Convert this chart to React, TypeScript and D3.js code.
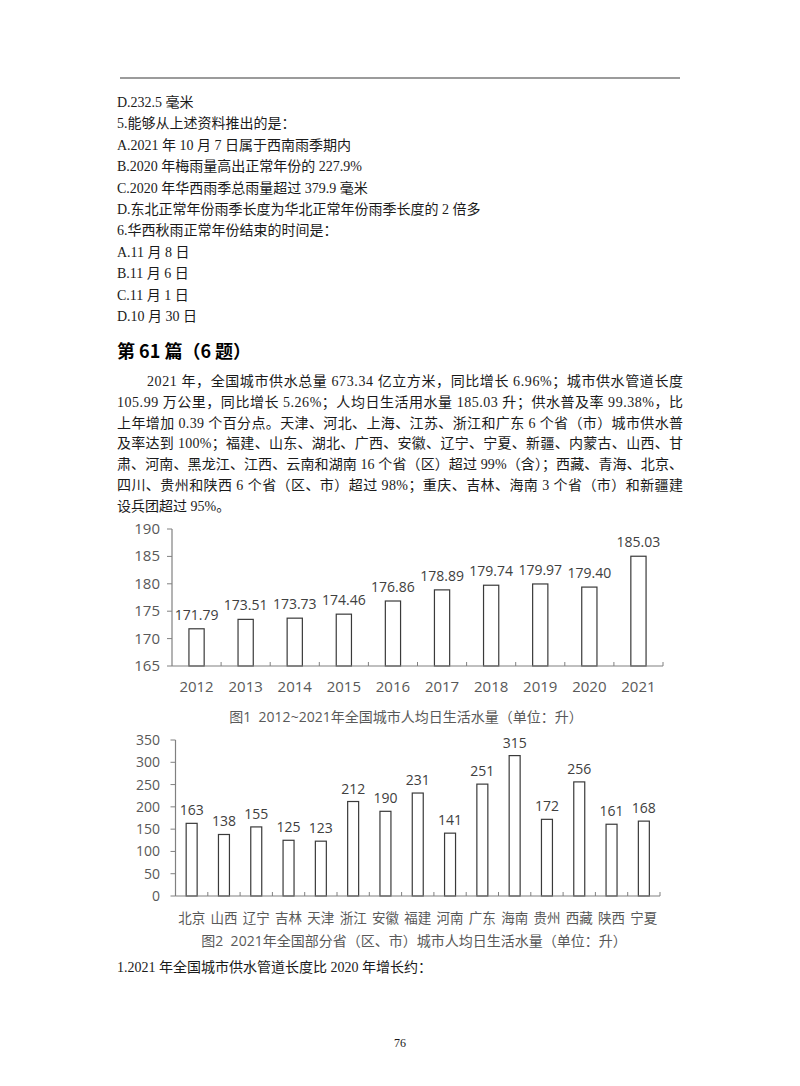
import React from "react";
import * as d3 from "d3";

const questionLines = [
  "D.232.5 毫米",
  "5.能够从上述资料推出的是：",
  "A.2021 年 10 月 7 日属于西南雨季期内",
  "B.2020 年梅雨量高出正常年份的 227.9%",
  "C.2020 年华西雨季总雨量超过 379.9 毫米",
  "D.东北正常年份雨季长度为华北正常年份雨季长度的 2 倍多",
  "6.华西秋雨正常年份结束的时间是：",
  "A.11 月 8 日",
  "B.11 月 6 日",
  "C.11 月 1 日",
  "D.10 月 30 日",
];

const sectionTitle = "第 61 篇（6 题）";

const paragraphLines = [
  "2021 年，全国城市供水总量 673.34 亿立方米，同比增长 6.96%；城市供水管道长度",
  "105.99 万公里，同比增长 5.26%；人均日生活用水量 185.03 升；供水普及率 99.38%，比",
  "上年增加 0.39 个百分点。天津、河北、上海、江苏、浙江和广东 6 个省（市）城市供水普",
  "及率达到 100%；福建、山东、湖北、广西、安徽、辽宁、宁夏、新疆、内蒙古、山西、甘",
  "肃、河南、黑龙江、江西、云南和湖南 16 个省（区）超过 99%（含）；西藏、青海、北京、",
  "四川、贵州和陕西 6 个省（区、市）超过 98%；重庆、吉林、海南 3 个省（市）和新疆建",
  "设兵团超过 95%。",
];

const years = ["2012", "2013", "2014", "2015", "2016", "2017", "2018", "2019", "2020", "2021"];
const cityWaterUse = [171.79, 173.51, 173.73, 174.46, 176.86, 178.89, 179.74, 179.97, 179.4, 185.03];
const yTicks1 = [165, 170, 175, 180, 185, 190];
const caption1 = "图1  2012~2021年全国城市人均日生活水量（单位：升）";

const provinces = ["北京", "山西", "辽宁", "吉林", "天津", "浙江", "安徽", "福建", "河南", "广东", "海南", "贵州", "西藏", "陕西", "宁夏"];
const provinceWaterUse = [163, 138, 155, 125, 123, 212, 190, 231, 141, 251, 315, 172, 256, 161, 168];
const yTicks2 = [0, 50, 100, 150, 200, 250, 300, 350];
const caption2 = "图2  2021年全国部分省（区、市）城市人均日生活水量（单位：升）";

const questionAfter = "1.2021 年全国城市供水管道长度比 2020 年增长约：";
const pageNumber = "76";

const BODY_FONT = "'Liberation Serif','Noto Sans CJK SC',serif";
const CHART_FONT = "'Open Sans','Noto Sans CJK SC',sans-serif";
const AXIS_COLOR = "#808080";
const LABEL_COLOR = "#595959";
const VALUE_COLOR = "#404040";
const BAR_STROKE = "#3a3a3a";

type BarChartProps = {
  cats: string[];
  values: number[];
  ticks: number[];
  x0: number;
  x1: number;
  yTop: number;
  yBottom: number;
  pad: number;
  labelFormat: (v: number) => string;
  valueGap: number;
  xLabelY: number;
  yLabelX: number;
  fontSize: number;
  catFontSize: number;
  valueFontSize: number;
  caption: string;
  captionX: number;
  captionY: number;
};

function BarChart(p: BarChartProps) {
  const x = d3
    .scaleBand<string>()
    .domain(p.cats)
    .range([p.x0, p.x1])
    .paddingInner(p.pad)
    .paddingOuter(p.pad / 2);
  const y = d3
    .scaleLinear()
    .domain([p.ticks[0], p.ticks[p.ticks.length - 1]])
    .range([p.yBottom, p.yTop]);
  const step = x.step();
  const boundaries = p.cats.map((_, i) => p.x0 + (i + 1) * step);
  return (
    <g fontFamily={CHART_FONT}>
      {p.cats.map((c, i) => {
        const v = p.values[i];
        const bx = x(c) as number;
        return (
          <g key={c}>
            <rect
              x={bx}
              y={y(v)}
              width={x.bandwidth()}
              height={p.yBottom - y(v)}
              fill="#fff"
              stroke={BAR_STROKE}
              strokeWidth={1.2}
            />
            <text
              x={bx + x.bandwidth() / 2}
              y={y(v) - p.valueGap}
              textAnchor="middle"
              fontSize={p.valueFontSize}
              fill={VALUE_COLOR}
            >
              {p.labelFormat(v)}
            </text>
            <text
              x={bx + x.bandwidth() / 2}
              y={p.xLabelY}
              textAnchor="middle"
              fontSize={p.catFontSize}
              fill={LABEL_COLOR}
            >
              {c}
            </text>
          </g>
        );
      })}
      <line x1={p.x0} x2={p.x0} y1={p.yTop} y2={p.yBottom} stroke={AXIS_COLOR} strokeWidth={1.2} />
      <line x1={p.x0} x2={p.x1} y1={p.yBottom} y2={p.yBottom} stroke={AXIS_COLOR} strokeWidth={1.2} />
      {boundaries.map((bx, i) => (
        <line key={i} x1={bx} x2={bx} y1={p.yBottom} y2={p.yBottom - 4} stroke={AXIS_COLOR} strokeWidth={1} />
      ))}
      {p.ticks.map((t) => (
        <g key={t}>
          <line x1={p.x0 - 5} x2={p.x0} y1={y(t)} y2={y(t)} stroke={AXIS_COLOR} strokeWidth={1} />
          <text x={p.yLabelX} y={y(t) + 5} textAnchor="end" fontSize={p.fontSize} fill={LABEL_COLOR}>
            {t}
          </text>
        </g>
      ))}
      <text
        x={p.captionX}
        y={p.captionY}
        textAnchor="middle"
        fontSize={14}
        fill={LABEL_COLOR}
        style={{ whiteSpace: "pre" }}
      >
        {p.caption}
      </text>
    </g>
  );
}

export default function App() {
  const textColor = "#1a1a1a";
  const left = 117;
  const right = 683;
  return (
    <svg
      width={800}
      height={1086}
      viewBox="0 0 800 1086"
      style={{ position: "absolute", left: 0, top: 0, background: "#fff" }}
    >
      <rect x={0} y={0} width={800} height={1086} fill="#fff" />
      <line x1={120} x2={680} y1={78} y2={78} stroke="#7a7a7a" strokeWidth={1.5} />
      <g fontFamily={BODY_FONT} fontSize={14} fill={textColor}>
        {questionLines.map((t, i) => (
          <text key={i} x={left} y={107 + i * 21.4}>
            {t}
          </text>
        ))}
      </g>
      <text x={left} y={358} fontFamily="'Noto Sans CJK SC',sans-serif" fontWeight="bold" fontSize={18} fill="#000">
        {sectionTitle}
      </text>
      <g fontFamily={BODY_FONT} fontSize={14} fill={textColor}>
        {paragraphLines.map((t, i) => {
          const isFirst = i === 0;
          const isLast = i === paragraphLines.length - 1;
          const x = isFirst ? left + 30 : left;
          return (
            <text
              key={i}
              x={x}
              y={386 + i * 20.8}
              textLength={isLast ? undefined : right - x}
              lengthAdjust={isLast ? undefined : "spacing"}
            >
              {t}
            </text>
          );
        })}
      </g>
      <BarChart
        cats={years}
        values={cityWaterUse}
        ticks={yTicks1}
        x0={172}
        x1={663}
        yTop={529}
        yBottom={666}
        pad={0.69}
        labelFormat={(v) => v.toFixed(2)}
        valueGap={9}
        xLabelY={692}
        yLabelX={160}
        fontSize={15}
        catFontSize={15}
        valueFontSize={14}
        caption={caption1}
        captionX={406}
        captionY={722}
      />
      <BarChart
        cats={provinces}
        values={provinceWaterUse}
        ticks={yTicks2}
        x0={175.5}
        x1={660}
        yTop={740}
        yBottom={896}
        pad={0.66}
        labelFormat={(v) => String(v)}
        valueGap={8}
        xLabelY={923}
        yLabelX={160}
        fontSize={14}
        catFontSize={13.5}
        valueFontSize={14}
        caption={caption2}
        captionX={414}
        captionY={946}
      />
      <text x={left} y={972} fontFamily={BODY_FONT} fontSize={14} fill={textColor}>
        {questionAfter}
      </text>
      <text x={400} y={1047} textAnchor="middle" fontFamily={BODY_FONT} fontSize={12} fill={textColor}>
        {pageNumber}
      </text>
    </svg>
  );
}
